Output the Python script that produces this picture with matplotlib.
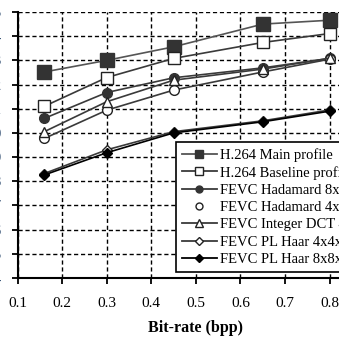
import matplotlib
matplotlib.use('Agg')
import matplotlib.pyplot as plt
from matplotlib.lines import Line2D

# bit-rate (bpp) and PSNR-ish values
bitrate = [0.16, 0.3, 0.45, 0.65, 0.8]
main_profile = [32.52, 33.0, 33.56, 34.5, 34.66]
baseline_profile = [31.1, 32.29, 33.08, 33.74, 34.11]
hadamard8 = [30.6, 31.67, 32.28, 32.69, 33.08]
hadamard4 = [29.77, 30.94, 31.77, 32.52, 33.05]
intdct4 = [30.05, 31.29, 32.18, 32.64, 33.09]
haar4 = [28.32, 29.3, 30.05, 30.5, 30.95]
haar8 = [28.26, 29.18, 30.0, 30.46, 30.9]

labels = ['H.264 Main profile', 'H.264 Baseline profile', 'FEVC Hadamard 8x8x8',
          'FEVC Hadamard 4x4x4', 'FEVC Integer DCT 4x4x4', 'FEVC PL Haar 4x4x4',
          'FEVC PL Haar 8x8x8']
xticks = [0.1, 0.2, 0.3, 0.4, 0.5, 0.6, 0.7, 0.8, 0.9]
yticks = list(range(24, 36))

serif = 'Liberation Serif'

fig = plt.figure(figsize=(3.39, 3.39), dpi=100)
ax = fig.add_axes([17.5 / 339, 61 / 339, 356.8 / 339, 266 / 339])

line_c = '#3a3a3a'
styles = [
    dict(marker='s', ms=9.5, mfc='#333333', mec='#333333', color='#555555'),
    dict(marker='s', ms=9, mfc='white', mec='#222222', color=line_c),
    dict(marker='o', ms=7, mfc='#333333', mec='#333333', color=line_c),
    dict(marker='o', ms=7, mfc='white', mec='#222222', color=line_c),
    dict(marker='^', ms=7, mfc='white', mec='#222222', color=line_c),
    dict(marker='D', ms=5.5, mfc='white', mec='#222222', color=line_c),
    dict(marker='D', ms=5.5, mfc='black', mec='black', color='black'),
]
leg_ms = [6, 6, 5, 5, 5.5, 4, 4]
series = [main_profile, baseline_profile, hadamard8, hadamard4, intdct4, haar4, haar8]

handles = []
for vals, st, lab, lms in zip(series, styles, labels, leg_ms):
    ax.plot(bitrate, vals, lw=1.2, zorder=3, **st)
    hs = dict(st)
    hs['ms'] = lms
    if lab == 'FEVC Hadamard 4x4x4':
        hs.pop('color')
        h = Line2D([], [], ls='none', **hs)
    else:
        h = Line2D([], [], lw=1.3, **hs)
    handles.append(h)

ax.set_xlim(0.1, 0.9)
ax.set_ylim(24, 35)
ax.set_xticks(xticks)
ax.set_yticks(yticks)
ax.set_xticklabels(['%.1f' % v for v in xticks], fontfamily=serif, fontsize=11)
ax.set_yticklabels([str(v) for v in yticks], fontfamily=serif, fontsize=11, color='#2c4a6e')
ax.tick_params(axis='x', direction='out', length=4, width=1.3, pad=10)
ax.tick_params(axis='y', direction='out', length=4.3, width=1.3, pad=7.2)

ax.grid(True, color='black', ls=(0, (3, 2)), lw=1)
ax.set_axisbelow(True)
for s in ['top', 'right']:
    ax.spines[s].set_visible(False)
for s in ['left', 'bottom']:
    ax.spines[s].set_linewidth(1.5)

ax.set_xlabel('Bit-rate (bpp)', fontfamily=serif, fontweight='bold', fontsize=11.5, labelpad=7)

leg = ax.legend(handles, labels, loc='upper left', bbox_to_anchor=(0.444, 0.511),
                borderaxespad=0, prop={'family': serif, 'size': 10.5},
                fancybox=False, framealpha=1, edgecolor='black',
                handlelength=2.4, handletextpad=0.2, labelspacing=0.28, borderpad=0.4)
leg.get_frame().set_linewidth(1.2)
leg.set_zorder(5)

fig.savefig('out.png', dpi=100)
